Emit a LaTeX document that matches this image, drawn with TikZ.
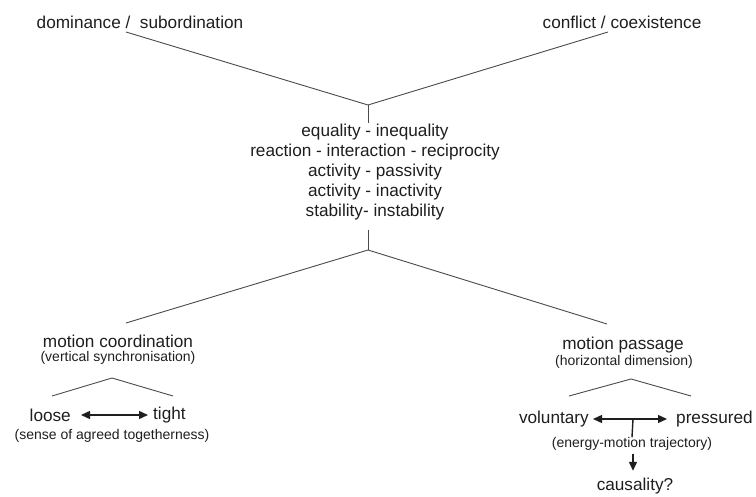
\documentclass[tikz,border=0pt]{standalone}
\usepackage{fontspec}
\setmainfont{Liberation Sans}
\usetikzlibrary{positioning,arrows.meta}
\definecolor{ink}   {HTML}{1E1E1E}
\definecolor{stroke}{HTML}{4A4A4A}

\begin{document}
\begin{tikzpicture}[x=1pt,y=-1pt,
    lbl/.style={font=\fontsize{17.2}{20}\selectfont,text=ink,inner sep=0pt},
    note/.style={font=\fontsize{14}{15}\selectfont,text=ink,inner sep=0pt},
    link/.style={color=stroke,line width=0.9pt},
    tip/.style={ink,line width=1.4pt},
    both/.style={tip,{Triangle[length=9pt,width=8pt]}-{Triangle[length=9pt,width=8pt]}}]
  \useasboundingbox (0,0) rectangle (756,497);
  % top pair
  \node[lbl] (dom) at (140,22) {dominance /\ \ subordination};
  \node[lbl] (con) at (622,22) {conflict / coexistence};
  \node[lbl,align=center] (mid) at (375,172) {equality - inequality\\
      reaction - interaction - reciprocity\\ activity - passivity\\
      activity - inactivity\\ stability- instability};
  \coordinate (dom-end) at (126,32);
  \coordinate (con-end) at (608,32);
  \coordinate (top-j)   at (368,105);
  \coordinate (mid-in)  at (368,123);
  \coordinate (mid-out) at (368,230);
  \coordinate (low-j)   at (368,250);
  \coordinate (coord-end) at (126,323);
  \coordinate (pass-end)  at (607,324);
  \draw[link] (dom-end) -- (top-j) -- (con-end);
  \draw[link] (top-j) -- (mid-in);
  \draw[link] (mid-out) -- (low-j);
  \draw[link] (coord-end) -- (low-j) -- (pass-end);
  % left branch
  \node[lbl]  (coord) at (118,341) {motion coordination};
  \node[note] (vsync) at (118,358) {(vertical synchronisation)};
  \coordinate (lp-a) at (52,396);
  \coordinate (lp-t) at (112,378);
  \coordinate (lp-b) at (173,396);
  \draw[link] (lp-a) -- (lp-t) -- (lp-b);
  \node[lbl,anchor=east] (loose) at (71,415) {loose};
  \node[lbl,anchor=west] (tight) at (153,415) {tight};
  \draw[both] ([xshift=10pt]loose.east) -- ([xshift=-5pt]tight.west);
  \node[note] (agreed) at (112,436) {(sense of agreed togetherness)};
  % right branch
  \node[lbl]  (pass) at (623,345) {motion passage};
  \node[note] (hdim) at (624,362) {(horizontal dimension)};
  \coordinate (rp-a) at (569,396);
  \coordinate (rp-t) at (631,379);
  \coordinate (rp-b) at (691,396);
  \draw[link] (rp-a) -- (rp-t) -- (rp-b);
  \node[lbl,anchor=east] (volun) at (589,419) {voluntary};
  \node[lbl,anchor=west] (press) at (676,419) {pressured};
  \draw[both] ([xshift=4pt]volun.east) -- ([xshift=-9pt]press.west);
  \coordinate (tick) at (633,419);
  \node[note] (traj) at (632,444) {(energy-motion trajectory)};
  \node[lbl]  (cause) at (635,486) {causality?};
  \draw[tip] (tick) -- (traj.north);
  \draw[tip,-{Triangle[length=9pt,width=8pt]}] ([yshift=-3pt]traj.south -| tick)
    -- ([yshift=7pt]cause.north -| tick);
\end{tikzpicture}
\end{document}
